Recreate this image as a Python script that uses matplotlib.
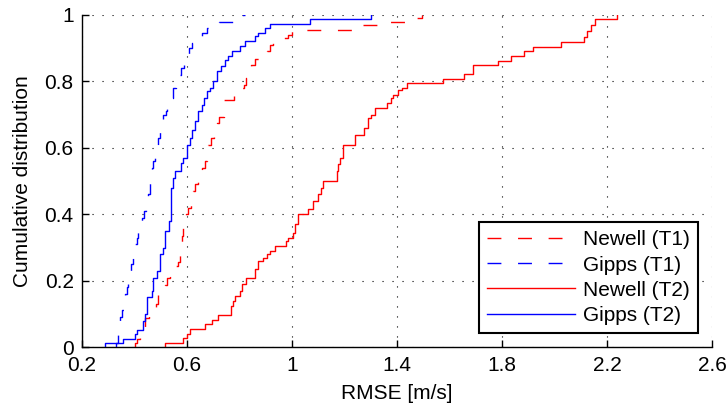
import matplotlib
matplotlib.use("Agg")
import matplotlib.pyplot as plt
from matplotlib.ticker import FormatStrFormatter

plt.rcParams['font.family'] = ['Liberation Sans', 'DejaVu Sans']

newell_t1_x = [0.402, 0.402, 0.410, 0.421, 0.430, 0.440, 0.455, 0.472, 0.480, 0.490, 0.500,
               0.516, 0.525, 0.535, 0.550, 0.567, 0.573, 0.580, 0.586, 0.590, 0.596, 0.605,
               0.615, 0.623, 0.630, 0.643, 0.655, 0.669, 0.675, 0.681, 0.690, 0.703, 0.713,
               0.723, 0.741, 0.779, 0.790, 0.800, 0.815, 0.825, 0.834, 0.845, 0.860, 0.905,
               0.915, 0.929, 0.985, 1.000, 1.230, 1.330, 1.470, 1.494]
newell_t1_y = [0.0, 0.013, 0.025, 0.040, 0.060, 0.088, 0.095, 0.107, 0.130, 0.157, 0.170,
               0.187, 0.210, 0.232, 0.245, 0.257, 0.308, 0.335, 0.358, 0.380, 0.400, 0.420,
               0.450, 0.470, 0.490, 0.530, 0.540, 0.560, 0.590, 0.610, 0.630, 0.656, 0.675,
               0.693, 0.744, 0.760, 0.770, 0.780, 0.790, 0.810, 0.830, 0.850, 0.866, 0.890,
               0.910, 0.929, 0.940, 0.954, 0.969, 0.979, 0.990, 1.0]

gipps_t1_x = [0.330, 0.330, 0.338, 0.345, 0.351, 0.358, 0.364, 0.370, 0.376, 0.382, 0.388,
              0.394, 0.400, 0.408, 0.414, 0.420, 0.428, 0.436, 0.444, 0.448, 0.453, 0.459,
              0.465, 0.472, 0.478, 0.484, 0.490, 0.497, 0.503, 0.510, 0.518, 0.525, 0.535,
              0.548, 0.557, 0.567, 0.578, 0.589, 0.600, 0.609, 0.620, 0.637, 0.655, 0.675,
              0.700, 0.720, 0.810, 0.822]
gipps_t1_y = [0.0, 0.013, 0.067, 0.090, 0.112, 0.135, 0.160, 0.180, 0.200, 0.225, 0.250,
              0.280, 0.310, 0.330, 0.350, 0.370, 0.390, 0.410, 0.430, 0.445, 0.460, 0.520,
              0.540, 0.560, 0.580, 0.610, 0.630, 0.650, 0.680, 0.700, 0.710, 0.720, 0.750,
              0.780, 0.800, 0.820, 0.840, 0.860, 0.880, 0.900, 0.915, 0.934, 0.945, 0.959,
              0.970, 0.979, 1.0, 1.0]

newell_t2_x = [0.516, 0.516, 0.586, 0.600, 0.611, 0.669, 0.694, 0.719, 0.766, 0.775, 0.783,
               0.802, 0.810, 0.825, 0.860, 0.872, 0.890, 0.905, 0.916, 0.935, 0.975, 0.986,
               1.005, 1.012, 1.024, 1.062, 1.080, 1.100, 1.110, 1.119, 1.170, 1.176, 1.183,
               1.195, 1.240, 1.275, 1.290, 1.300, 1.316, 1.360, 1.375, 1.386, 1.405, 1.420,
               1.437, 1.576, 1.653, 1.690, 1.786, 1.833, 1.884, 1.917, 2.024, 2.110, 2.125,
               2.140, 2.154, 2.237]
newell_t2_y = [0.0, 0.013, 0.027, 0.040, 0.055, 0.070, 0.083, 0.097, 0.125, 0.140, 0.154,
               0.170, 0.190, 0.210, 0.235, 0.260, 0.270, 0.280, 0.290, 0.305, 0.320, 0.330,
               0.345, 0.370, 0.400, 0.415, 0.440, 0.460, 0.480, 0.500, 0.530, 0.550, 0.570,
               0.610, 0.640, 0.660, 0.690, 0.700, 0.720, 0.735, 0.750, 0.760, 0.775, 0.780,
               0.794, 0.807, 0.822, 0.849, 0.862, 0.877, 0.891, 0.904, 0.918, 0.934, 0.950,
               0.970, 0.989, 1.0]

gipps_t2_x = [0.288, 0.288, 0.356, 0.400, 0.408, 0.431, 0.438, 0.446, 0.465, 0.472, 0.485,
              0.497, 0.510, 0.516, 0.533, 0.539, 0.548, 0.554, 0.575, 0.585, 0.600, 0.610,
              0.618, 0.630, 0.641, 0.655, 0.665, 0.675, 0.688, 0.700, 0.713, 0.730, 0.745,
              0.755, 0.770, 0.800, 0.821, 0.860, 0.872, 0.897, 0.916, 1.069, 1.301]
gipps_t2_y = [0.0, 0.013, 0.026, 0.040, 0.053, 0.080, 0.100, 0.150, 0.170, 0.210, 0.230,
              0.280, 0.300, 0.350, 0.380, 0.480, 0.510, 0.530, 0.555, 0.570, 0.610, 0.630,
              0.655, 0.680, 0.710, 0.730, 0.750, 0.770, 0.780, 0.800, 0.830, 0.845, 0.865,
              0.875, 0.890, 0.905, 0.920, 0.935, 0.945, 0.960, 0.974, 0.987, 1.0]

x_ticks = [0.2, 0.6, 1.0, 1.4, 1.8, 2.2, 2.6]
y_ticks = [0, 0.2, 0.4, 0.6, 0.8, 1.0]

fig = plt.figure(figsize=(7.26, 4.13), dpi=100)
ax = fig.add_axes([0.113, 0.159, 0.868, 0.805])

dash = (0, (10, 12))
ax.step(newell_t1_x, newell_t1_y, where='post', color='red', lw=1.0, linestyle=dash, label='Newell (T1)')
ax.step(gipps_t1_x, gipps_t1_y, where='post', color='blue', lw=1.0, linestyle=dash, label='Gipps (T1)')
ax.step(newell_t2_x, newell_t2_y, where='post', color='red', lw=1.0, label='Newell (T2)')
ax.step(gipps_t2_x, gipps_t2_y, where='post', color='blue', lw=1.0, label='Gipps (T2)')

ax.set_xlim(0.2, 2.6)
ax.set_ylim(0, 1)
ax.set_xticks(x_ticks)
ax.set_yticks(y_ticks)
ax.xaxis.set_major_formatter(FormatStrFormatter('%g'))
ax.yaxis.set_major_formatter(FormatStrFormatter('%g'))
ax.tick_params(direction='in', length=5, width=1, labelsize=15, pad=6)
ax.grid(True, color='black', linestyle=(0, (1, 8)), linewidth=0.8)
ax.spines['top'].set_visible(False)
ax.spines['right'].set_visible(False)
ax.spines['left'].set_linewidth(1.0)
ax.spines['bottom'].set_linewidth(1.0)

ax.set_xlabel('RMSE [m/s]', fontsize=15, labelpad=7)
ax.set_ylabel('Cumulative distribution', fontsize=15, labelpad=9)

leg = ax.legend(loc='lower right', bbox_to_anchor=(0.978, 0.042), fontsize=15,
                fancybox=False, edgecolor='black', framealpha=1, handlelength=4.2,
                handletextpad=0.4, labelspacing=0.3, borderpad=0.4, borderaxespad=0)
leg.get_frame().set_linewidth(1.5)

fig.savefig('out.png', dpi=100)
